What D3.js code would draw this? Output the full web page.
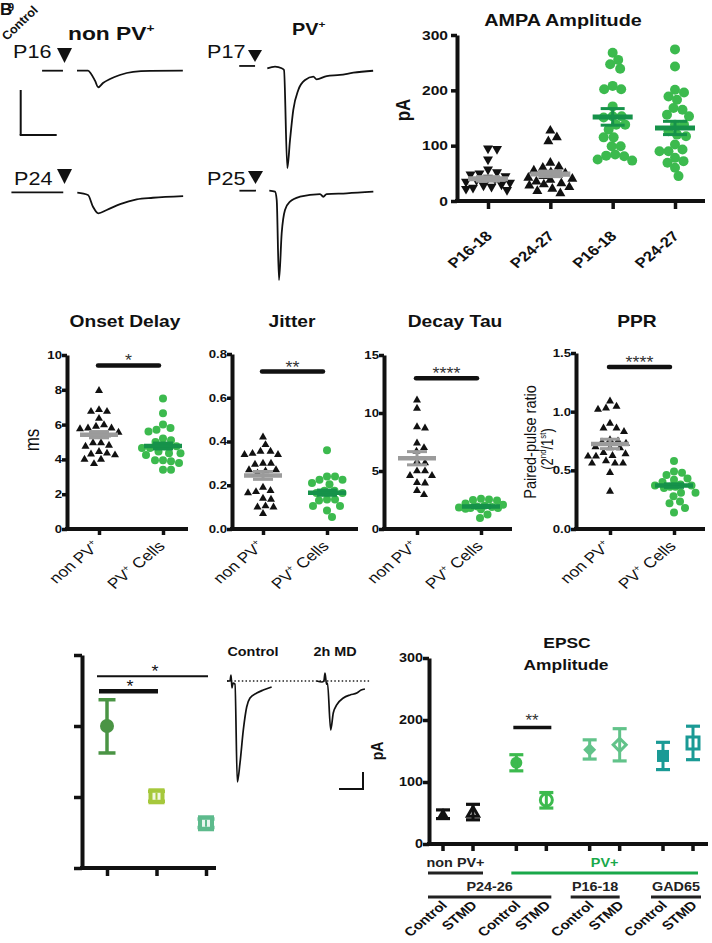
<!DOCTYPE html>
<html><head><meta charset="utf-8">
<script src="https://cdn.jsdelivr.net/npm/d3@7"></script>
<style>body{margin:0;background:#fff} svg{display:block}</style>
</head><body><svg id="fig" width="712" height="943"></svg>
<script>
// ================= DATA =================
// Panel A example traces: [time ms, current pA]
const traceNonPvP16 = [[0,0],[3.06,0],[3.89,-3.3],[5,-11.1],[5.92,-18.4],[7.22,-13.7],[9.17,-9.2],[11.9,-4.8],[15.6,-1.4],[20.3,-0.3],[29.4,0]];
const preNonPvP16 = [[-9.7,0],[-3.9,0]];
const traceNonPvP24 = [[0,0],[2.97,-2.6],[4.36,-15.6],[5.83,-22.9],[8.17,-19.2],[11.9,-12.6],[16.5,-7.3],[21,-5.6],[29.4,-3.7]];
const preNonPvP24 = [[-18.3,0.4],[-3.9,0.4]];
const tracePvP17 = [[0,0],[2.14,1.8],[4,0],[4.64,-1.9],[5.56,-111],[6.31,-79.7],[7.22,-46.3],[8.61,-24.1],[10.5,-13],[12.8,-9.3],[13.7,-12.2],[16.5,-8.6],[20.2,-7.4],[23.9,-4.9],[29.4,-2.7]];
const prePvP17 = [[-7.8,2.6],[-3.4,2.6]];
const tracePvP25 = [[0,0],[1.58,-1.1],[2.06,-10.3],[2.69,-99.2],[3.44,-47.3],[4.36,-21.4],[5.75,-12.2],[8.53,-6.7],[14.1,-3.7],[15,-6.7],[15.9,-3.7],[21.5,-2.9],[28.9,-1.1]];
const prePvP25 = [[-8.3,0],[-3.7,0]];

// Panel B: AMPA amplitude (pA)
const ampaCategories = ["nonPV P16-18","nonPV P24-27","PV P16-18","PV P24-27"];
const ampaTickLabels = ["P16-18","P24-27","P16-18","P24-27"];
const ampaTicks = [0,100,200,300];
const ampaNonPvP16 = [95,94,75,57,52,50,48,45,42,40,38,35,33,30,28,26,24,22,20];
const ampaNonPvP24 = [127,115,108,69,62,60,55,52,50,47,45,42,40,38,35,32,30,28,25,22,18,14];
const ampaPvP16 = [268,255,247,239,208,202,202,171,153,153,151,138,138,129,115,115,99,99,84,82,81,75,73];
const ampaPvP24 = [274,243,201,196,189,183,168,165,156,153,138,138,126,120,117,102,93,90,90,78,72,69,60,45];
const ampaMean = [40,49,152,132];
const ampaSem = [4,5,15,12];

// Panel C: kinetics, two groups each
const kinCategories = ["non PV+","PV+ Cells"];
const onsetNonPv = [7.95,6.85,6.75,6.75,6.35,5.98,5.9,5.8,5.8,5.75,5.55,5.4,5.4,4.95,4.95,4.8,4.75,4.45,4.35,4.3,4.25,4.0,4.0,3.75];
const onsetPv = [7.5,6.65,6.0,5.8,5.7,5.6,5.2,5.1,5.0,4.75,4.75,4.65,4.65,4.45,4.35,4.35,4.25,3.95,3.95,3.9,3.8,3.4,3.4];
const onsetMean = [5.42,4.77], onsetSem = [0.18,0.17], onsetTicks = [0,2,4,6,8,10];
const jitterNonPv = [0.42,0.385,0.355,0.355,0.345,0.34,0.34,0.30,0.30,0.295,0.27,0.27,0.265,0.255,0.19,0.175,0.17,0.165,0.14,0.135,0.105,0.10,0.10,0.07];
const jitterPv = [0.36,0.24,0.24,0.225,0.225,0.21,0.205,0.175,0.175,0.165,0.165,0.135,0.135,0.13,0.105,0.105,0.085,0.055];
const jitterMean = [0.245,0.166], jitterSem = [0.018,0.012], jitterTicks = [0,0.2,0.4,0.6,0.8];
const decayNonPv = [11.1,10.4,8.8,8.7,7.4,7.0,6.7,5.8,5.7,5.0,5.0,4.6,4.6,4.0,3.95,3.3,2.95];
const decayPv = [2.6,2.55,2.5,2.45,2.2,2.1,2.0,1.95,1.9,1.85,1.8,1.8,1.75,1.7,1.25,0.95];
const decayMean = [6.1,1.95], decaySem = [0.57,0.1], decayTicks = [0,5,10,15];
const pprNonPv = [1.09,1.045,1.03,1.02,0.90,0.86,0.86,0.83,0.76,0.75,0.74,0.73,0.70,0.69,0.69,0.65,0.64,0.625,0.62,0.62,0.58,0.56,0.56,0.56,0.48,0.32];
const pprPv = [0.58,0.49,0.48,0.46,0.43,0.42,0.40,0.38,0.37,0.37,0.36,0.36,0.35,0.31,0.31,0.28,0.235,0.22,0.18,0.14];
const pprMean = [0.725,0.37], pprSem = [0.04,0.015], pprTicks = [0,0.5,1.0,1.5];
const sigValues = [9.4,0.72,13,1.38];
const sigStars = ["*","**","****","****"];

// Panel D: monocular deprivation time course (unlabelled axis units)
const mdCategories = ["Control","2h MD","later"];
const mdMean = [2.0,1.01,0.63];
const mdLow = [1.62,0.94,0.57];
const mdHigh = [2.37,1.08,0.69];
const mdTicks = [0,1,2,3];
const mdSig = [2.70,2.49];
// Panel D traces: [time ms, current pA]
const traceControl = [[0,0],[1.25,0],[1.67,35],[2.08,-41],[2.5,-12],[3.33,-18],[4.3,-594],[5.42,-482],[6.8,-288],[8.2,-153],[9.58,-100],[12.4,-71],[15.1,-53],[18.6,-35]];
const traceMD = [[0,0],[2.2,-6],[3.0,0],[3.46,47],[4.08,-18],[4.5,-12],[5.83,-288],[6.9,-188],[8.33,-141],[11.1,-100],[13.9,-82],[16.7,-71],[18.5,-53],[20.1,-47]];

// Panel E: EPSC amplitude (pA), mean and error range
const epscGroups = ["nonPV P24-26","PV P24-26","PV P16-18","PV GAD65"];
const epscConditions = ["Control","STMD"];
const epscTicks = [0,100,200,300];
const epscMeanControl = [48,131,152,142];
const epscLowControl = [41,118,137,120];
const epscHighControl = [55,144,168,164];
const epscMeanSTMD = [50,71,160,163];
const epscLowSTMD = [39,58,134,136];
const epscHighSTMD = [64,83,186,190];
const epscSig = 188;

// ================= HELPERS =================
const SX = 1.2;
const FONT = '"Liberation Sans", Arial, Helvetica, sans-serif';
const svg = d3.select("#fig");
const GREEN = "#3cba4e", DKGREEN = "#16924a", GRAY = "#9b9b9b", BLACK = "#111";

function label(g, x, y, parts, o = {}) {
  const fs = o.size || 12;
  const t = g.append("text")
    .attr("transform", `translate(${x},${y}) scale(${o.sx ?? SX},1)${o.rot ? ` rotate(${o.rot})` : ""}`)
    .attr("text-anchor", o.anchor || "middle")
    .style("font-family", FONT).style("font-size", fs + "px")
    .style("font-weight", o.bold ? "bold" : "normal")
    .attr("fill", o.fill || BLACK);
  if (typeof parts === "string") parts = [[parts]];
  let raised = false;
  parts.forEach(([s, sup]) => {
    const ts = t.append("tspan").text(s);
    if (sup) { ts.style("font-size", (0.6 * fs) + "px"); if (!raised) { ts.attr("dy", -0.42 * fs); raised = true; } }
    else if (raised) { ts.attr("dy", 0.42 * fs); raised = false; }
  });
  return t;
}
function hline(g, x1, x2, y, w, c, cap) {
  return g.append("line").attr("x1", x1).attr("x2", x2).attr("y1", y).attr("y2", y)
    .attr("stroke", c || BLACK).attr("stroke-width", w).attr("stroke-linecap", cap || "butt");
}
function vline(g, x, y1, y2, w, c) {
  return g.append("line").attr("x1", x).attr("x2", x).attr("y1", y1).attr("y2", y2)
    .attr("stroke", c || BLACK).attr("stroke-width", w);
}
function marker(g, type, cx, cy, w, color, open, sw) {
  let el;
  if (type === "circle") {
    el = g.append("circle").attr("cx", cx).attr("cy", cy).attr("r", w / 2);
  } else {
    let sym, area, rot = 0;
    if (type === "triup" || type === "tridown") { sym = d3.symbolTriangle; area = Math.sqrt(3) / 4 * w * w; rot = type === "tridown" ? 180 : 0; }
    else if (type === "diamond") { sym = d3.symbolSquare; area = (w / Math.SQRT2) ** 2; rot = 45; }
    else { sym = d3.symbolSquare; area = w * w; }
    el = g.append("path").attr("d", d3.symbol().type(sym).size(area)())
      .attr("transform", `translate(${cx},${cy}) rotate(${rot})`);
  }
  if (open) el.attr("fill", "#fff").attr("stroke", color).attr("stroke-width", sw || 2.5);
  else el.attr("fill", color);
  return el;
}
// bounded beeswarm layout (horizontal offsets only; values untouched)
function swarm(values, y, d, maxW) {
  const pts = values.map(v => ({ v, y: y(v), dx: 0 })).sort((a, b) => a.y - b.y);
  const placed = [];
  const cands = [0];
  for (let s = 0.5; s <= maxW; s += 0.5) { cands.push(s, -s); }
  for (const p of pts) {
    let best = 0, bestScore = -1, found = false;
    for (const off of cands) {
      let mind = Infinity;
      for (const q of placed) mind = Math.min(mind, Math.hypot(q.dx - off, q.y - p.y));
      if (mind >= d) { p.dx = off; found = true; break; }
      if (mind > bestScore + 0.3) { bestScore = mind; best = off; }
    }
    if (!found) p.dx = best;
    placed.push(p);
  }
  return pts;
}
function drawTrace(g, data, ox, oy, xs, ys, sw) {
  const line = d3.line().x(d => ox + xs(d[0])).y(d => oy + ys(d[1])).curve(d3.curveMonotoneX);
  g.append("path").attr("d", line(data)).attr("fill", "none").attr("stroke", BLACK)
    .attr("stroke-width", sw || 1.8).attr("stroke-linejoin", "round");
}
function downTri(g, cx, top, w, h) {
  g.append("path").attr("d", d3.line()([[cx - w / 2, top], [cx + w / 2, top], [cx, top + h]]) + "Z").attr("fill", BLACK);
}

// generic axes for a dot plot
function axes(g, c) {
  const y = d3.scaleLinear().domain(c.domain).range([c.yBottom, c.yTop]);
  const x = d3.scalePoint().domain(c.cats).range(c.tickRange);
  const ya = g.append("g").attr("transform", `translate(${c.axisX},0)`)
    .call(d3.axisLeft(y).tickValues(c.ticks).tickSize(c.tickLen).tickSizeOuter(0).tickFormat(""));
  ya.select(".domain").attr("stroke", BLACK).attr("stroke-width", c.axisW);
  ya.selectAll(".tick line").attr("stroke", BLACK).attr("stroke-width", c.tickW);
  if (c.fmt) c.ticks.forEach(v => label(g, c.axisX - c.tickLen - c.labelGap, y(v) + c.tickFs * 0.36, c.fmt(v), { size: c.tickFs, bold: true, anchor: "end" }));
  const xa = g.append("g").attr("transform", `translate(0,${c.yBottom})`)
    .call(d3.axisBottom(x).tickSize(c.xTickLen || c.tickLen).tickSizeOuter(0).tickFormat(""));
  xa.select(".domain").remove();
  xa.selectAll(".tick line").attr("stroke", BLACK).attr("stroke-width", c.tickW);
  hline(g, c.axisX - c.axisW / 2, c.xEnd, c.yBottom, c.axisW);
  return { x, y };
}
function dotPanel(c) {
  const g = svg.append("g");
  const { x, y } = axes(g, c);
  c.groups.forEach((gr, i) => {
    const cx = x(c.cats[i]);
    swarm(gr.values, y, c.dotD, c.maxW).forEach(p => marker(g, gr.type, cx + p.dx, p.y, c.dotW, gr.color));
    hline(g, cx - c.meanHW, cx + c.meanHW, y(c.mean[i]), c.meanW, gr.meanColor);
    vline(g, cx, y(c.mean[i] + c.sem[i]), y(c.mean[i] - c.sem[i]), 3, gr.meanColor);
    hline(g, cx - c.semHW, cx + c.semHW, y(c.mean[i] + c.sem[i]), 3, gr.meanColor);
    hline(g, cx - c.semHW, cx + c.semHW, y(c.mean[i] - c.sem[i]), 3, gr.meanColor);
  });
  if (c.sig !== undefined) {
    const x1 = x(c.cats[0]) - 1, x2 = x(c.cats[1]) - 4, yy = y(c.sig);
    hline(g, x1, x2, yy, 4.5, BLACK, "round");
    label(g, (x1 + x2) / 2, yy + 1, c.star, { size: 17, fill: "#333", sx: 1.05 });
  }
  return { g, x, y };
}

// ================= PANEL A =================
const gA = svg.append("g");
label(gA, 0, 15, "B", { size: 17, bold: true, anchor: "start", sx: 1 });
label(gA, 8, 11, "9", { size: 11, bold: true, anchor: "start", sx: 1 });
label(gA, 7, 41, "Control", { size: 12, bold: true, anchor: "start", rot: -45, sx: 1.05 });
label(gA, 68, 40, [["non PV"], ["+", true]], { size: 19, bold: true, anchor: "start" });
label(gA, 292, 35, [["PV"], ["+", true]], { size: 16.5, bold: true, anchor: "start" });
label(gA, 13, 58, "P16", { size: 18, anchor: "start" });
label(gA, 14, 185, "P24", { size: 18, anchor: "start" });
label(gA, 207, 58, "P17", { size: 18, anchor: "start" });
label(gA, 207, 185, "P25", { size: 18, anchor: "start" });
downTri(gA, 64.5, 48, 15, 15);
downTri(gA, 64.5, 169, 15, 15);
downTri(gA, 255, 50, 14, 12);
downTri(gA, 255.5, 171, 15, 13);
const xsA = d3.scaleLinear().domain([0, 10]).range([0, 36]);
const ysA = d3.scaleLinear().domain([0, -50]).range([0, 45]);
drawTrace(gA, preNonPvP16, 77, 70.7, xsA, ysA);
drawTrace(gA, traceNonPvP16, 77, 70.7, xsA, ysA);
drawTrace(gA, preNonPvP24, 77.3, 192.7, xsA, ysA);
drawTrace(gA, traceNonPvP24, 77.3, 192.7, xsA, ysA);
drawTrace(gA, prePvP17, 267.3, 68.3, xsA, ysA);
drawTrace(gA, tracePvP17, 267.3, 68.3, xsA, ysA);
drawTrace(gA, prePvP25, 269.3, 190.7, xsA, ysA);
drawTrace(gA, tracePvP25, 269.3, 190.7, xsA, ysA);
// scale bar 10 ms / 50 pA
vline(gA, 20.7, 135 - ysA(-50), 135, 2);
hline(gA, 19.7, 20.7 + xsA(10), 135, 2);

// ================= PANEL B: AMPA =================
const pB = dotPanel({
  axisX: 457, yTop: 35, yBottom: 201, domain: [0, 300], ticks: ampaTicks, fmt: d3.format("d"),
  cats: ampaCategories, tickRange: [488, 675], xEnd: 705, axisW: 4, tickW: 3.5, tickLen: 6, xTickLen: 8,
  tickFs: 13, labelGap: 3, dotD: 9, dotW: 10, maxW: 22, meanHW: 20, semHW: 12, meanW: 5,
  mean: ampaMean, sem: ampaSem,
  groups: [
    { values: ampaNonPvP16, type: "tridown", color: BLACK, meanColor: GRAY },
    { values: ampaNonPvP24, type: "triup", color: BLACK, meanColor: GRAY },
    { values: ampaPvP16, type: "circle", color: GREEN, meanColor: DKGREEN },
    { values: ampaPvP24, type: "circle", color: GREEN, meanColor: DKGREEN }
  ]
});
label(pB.g, 563, 26, "AMPA Amplitude", { size: 16.5, bold: true });
label(pB.g, 410, 110, "pA", { size: 17, bold: true, rot: -90 });
ampaCategories.forEach((c, i) => label(pB.g, pB.x(c) + 5, 237, ampaTickLabels[i], { size: 14, bold: true, anchor: "end", rot: -45 }));

// ================= PANEL C: kinetics =================
const kinPanels = [
  { axisX: 67, yTop: 355, xEnd: 188, domain: [0, 10], ticks: onsetTicks, fmt: d3.format("d"), a: onsetNonPv, b: onsetPv, mean: onsetMean, sem: onsetSem, title: "Onset Delay", tx: 125, tickRange: [99, 163] },
  { axisX: 232, yTop: 354, xEnd: 358, domain: [0, 0.8], ticks: jitterTicks, fmt: d3.format(".1f"), a: jitterNonPv, b: jitterPv, mean: jitterMean, sem: jitterSem, title: "Jitter", tx: 292, tickRange: [263, 327] },
  { axisX: 384, yTop: 355, xEnd: 512, domain: [0, 15], ticks: decayTicks, fmt: d3.format("d"), a: decayNonPv, b: decayPv, mean: decayMean, sem: decaySem, title: "Decay Tau", tx: 455, tickRange: [417, 481] },
  { axisX: 576, yTop: 353, xEnd: 705, domain: [0, 1.5], ticks: pprTicks, fmt: d3.format(".1f"), a: pprNonPv, b: pprPv, mean: pprMean, sem: pprSem, title: "PPR", tx: 637, tickRange: [610, 674] }
];
kinPanels.forEach((k, i) => {
  const p = dotPanel({
    axisX: k.axisX, yTop: k.yTop, yBottom: 529, domain: k.domain, ticks: k.ticks, fmt: k.fmt,
    cats: kinCategories, tickRange: k.tickRange, xEnd: k.xEnd, axisW: 4, tickW: 3.5, tickLen: 5, xTickLen: 6,
    tickFs: 11, labelGap: 0, dotD: 8, dotW: 8, maxW: 22, meanHW: 19, semHW: 10, meanW: 4.5,
    mean: k.mean, sem: k.sem, sig: sigValues[i], star: sigStars[i],
    groups: [
      { values: k.a, type: "triup", color: BLACK, meanColor: GRAY },
      { values: k.b, type: "circle", color: GREEN, meanColor: DKGREEN }
    ]
  });
  label(p.g, k.tx, 327, k.title, { size: 16, bold: true });
  label(p.g, p.x(kinCategories[0]) + 2, 547, [["non PV"], ["+", true]], { size: 14.5, anchor: "end", rot: -45 });
  label(p.g, p.x(kinCategories[1]) + 3, 547, [["PV"], ["+", true], [" Cells"]], { size: 14.5, anchor: "end", rot: -45 });
});
label(svg, 39, 440, "ms", { size: 17, rot: -90 });
label(svg, 536, 442, "Paired-pulse ratio", { size: 14.5, rot: -90 });
label(svg, 553, 449, [["(2"], ["nd", true], ["/1"], ["st", true], [")"]], { size: 13, rot: -90 });

// ================= PANEL D: MD time course =================
const gD = svg.append("g");
const pD = axes(gD, {
  axisX: 82, yTop: 655, yBottom: 868, domain: [0, 3], ticks: mdTicks, fmt: null,
  cats: mdCategories, tickRange: [107, 206], xEnd: 216, axisW: 4, tickW: 3.5, tickLen: 8
});
hline(gD, 97, 208, pD.y(mdSig[0]), 2);
label(gD, 155, pD.y(mdSig[0]) + 1, "*", { size: 17, sx: 1.05 });
hline(gD, 99, 158, pD.y(mdSig[1]), 4.5);
label(gD, 130, pD.y(mdSig[1]) + 1, "*", { size: 17, sx: 1.05 });
const mdColors = ["#4a9444", "#a6c83c", "#5dba8c"];
mdCategories.forEach((c, i) => {
  const cx = pD.x(c), col = mdColors[i];
  vline(gD, cx, pD.y(mdHigh[i]), pD.y(mdLow[i]), 3.5, col);
  hline(gD, cx - 8.5, cx + 8.5, pD.y(mdHigh[i]), 3.5, col);
  hline(gD, cx - 8.5, cx + 8.5, pD.y(mdLow[i]), 3.5, col);
  if (i === 0) marker(gD, "circle", cx, pD.y(mdMean[i]), 14, col);
  else {
    marker(gD, "square", cx, pD.y(mdMean[i]), 16, col);
    gD.append("rect").attr("x", cx - 4).attr("y", pD.y(mdMean[i]) - 3.5).attr("width", 8).attr("height", 7).attr("fill", "#fff").attr("opacity", 0.85);
    vline(gD, cx, pD.y(mdMean[i]) - 3.5, pD.y(mdMean[i]) + 3.5, 2, col);
  }
});
const xsD = d3.scaleLinear().domain([0, 10]).range([0, 24]);
const ysD = d3.scaleLinear().domain([0, -100]).range([0, 17]);
gD.append("line").attr("x1", 227).attr("x2", 370).attr("y1", 681).attr("y2", 681)
  .attr("stroke", "#222").attr("stroke-width", 1.3).attr("stroke-dasharray", "1.5,2.2");
drawTrace(gD, traceControl, 227, 681, xsD, ysD, 1.7);
drawTrace(gD, traceMD, 316.7, 681, xsD, ysD, 1.7);
label(gD, 253, 656, "Control", { size: 12, bold: true });
label(gD, 335, 656, "2h MD", { size: 12, bold: true });
vline(gD, 363, 789 - ysD(-100), 789, 2);
hline(gD, 363 - xsD(10), 364, 789, 2);

// ================= PANEL E: EPSC amplitude =================
const gE = svg.append("g");
const yE = d3.scaleLinear().domain([0, 300]).range([844, 658]);
const xGroup = d3.scalePoint().domain(epscGroups).range([458, 678]);
const xCond = d3.scalePoint().domain(epscConditions).range([-15, 15]);
const xE = (gname, cond) => xGroup(gname) + xCond(cond);
{
  const ya = gE.append("g").attr("transform", "translate(429,0)")
    .call(d3.axisLeft(yE).tickValues(epscTicks).tickSize(6).tickSizeOuter(0).tickFormat(""));
  ya.select(".domain").attr("stroke", BLACK).attr("stroke-width", 4);
  ya.selectAll(".tick line").attr("stroke", BLACK).attr("stroke-width", 3.5);
  epscTicks.forEach(v => label(gE, 423, yE(v) + 4.3, String(v), { size: 12, bold: true, anchor: "end" }));
  hline(gE, 427, 708, 844, 4);
  epscGroups.forEach(gn => epscConditions.forEach(c => vline(gE, xE(gn, c), 844, 851, 3.5)));
}
label(gE, 567, 648, "EPSC", { size: 14.5, bold: true });
label(gE, 566, 670, "Amplitude", { size: 14.5, bold: true });
label(gE, 383, 751, "pA", { size: 14, bold: true, rot: -90 });
const epscColors = [BLACK, GREEN, "#62c38a", "#1a9a95"];
const epscTypes = ["triup", "circle", "diamond", "square"];
const epscSizes = [11, 12, 13, 12];
epscGroups.forEach((gn, i) => {
  const col = epscColors[i];
  [[epscMeanControl, epscLowControl, epscHighControl, false], [epscMeanSTMD, epscLowSTMD, epscHighSTMD, true]].forEach(([m, lo, hi, open], j) => {
    const cx = xE(gn, epscConditions[j]);
    marker(gE, epscTypes[i], cx, yE(m[i]), epscSizes[i], col, open, 3);
    vline(gE, cx, yE(hi[i]), yE(lo[i]), 3, col);
    hline(gE, cx - 7, cx + 7, yE(hi[i]), 3.2, col);
    hline(gE, cx - 7, cx + 7, yE(lo[i]), 3.2, col);
  });
});
hline(gE, xE(epscGroups[1], "Control") - 3, xE(epscGroups[1], "STMD") + 5, yE(epscSig), 3.5);
label(gE, 532, yE(epscSig) - 1, "**", { size: 16, fill: "#333", sx: 1.05 });
// group annotations
const bracket = (g1, g2, padL, padR, yy, text, col, ty) => {
  const x1 = xE(g1, "Control") - padL, x2 = xE(g2, "STMD") + padR;
  hline(gE, x1, x2, yy, 3.2, col);
  label(gE, (x1 + x2) / 2, ty, text, { size: 12, bold: true, fill: col });
};
bracket(epscGroups[0], epscGroups[0], 15, 10, 873, "non PV+", "#222", 867);
bracket(epscGroups[1], epscGroups[3], 5, 5, 873, "PV+", "#1aa84a", 867);
bracket(epscGroups[0], epscGroups[1], 15, 5, 897, "P24-26", "#222", 891);
bracket(epscGroups[2], epscGroups[2], 19, 0, 897, "P16-18", "#222", 891);
bracket(epscGroups[3], epscGroups[3], 12, 8, 897, "GAD65", "#222", 891);
epscGroups.forEach(gn => epscConditions.forEach(c =>
  label(gE, xE(gn, c) + 5, 906, c, { size: 12.5, bold: true, anchor: "end", rot: -45 })));
</script></body></html>
